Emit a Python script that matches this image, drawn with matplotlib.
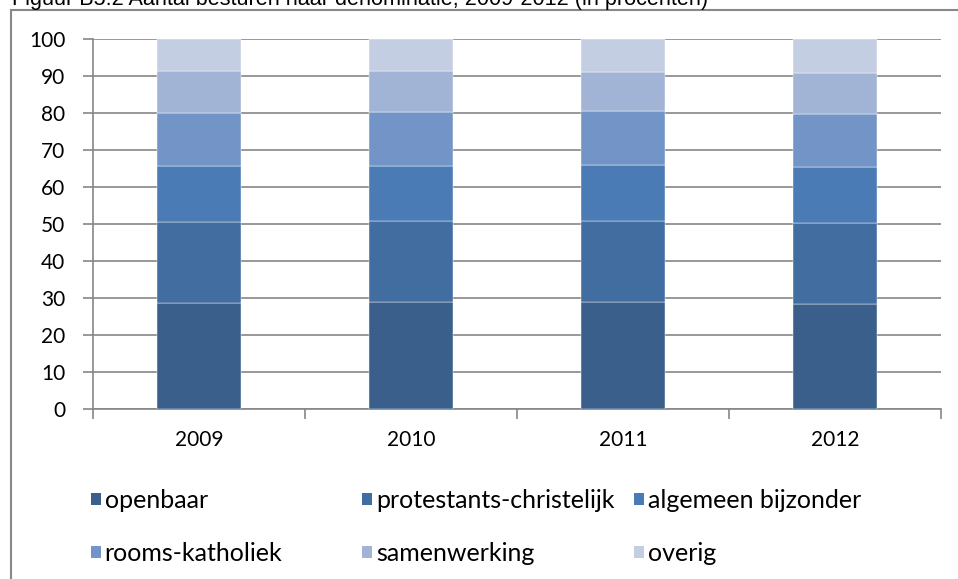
import matplotlib

matplotlib.use("Agg")
import matplotlib.pyplot as plt
from matplotlib.patches import Patch, Rectangle

# data (procenten per denominatie)
jaren = ["2009", "2010", "2011", "2012"]
openbaar = [28.7, 28.9, 28.9, 28.5]
protestants = [21.9, 21.9, 21.9, 21.9]
algemeen = [15.1, 15.0, 15.2, 15.1]
rooms = [14.4, 14.5, 14.5, 14.2]
samenwerking = [11.1, 10.9, 10.6, 11.0]
overig = [8.8, 8.8, 8.9, 9.3]

labels = ["openbaar", "protestants-christelijk", "algemeen bijzonder",
          "rooms-katholiek", "samenwerking", "overig"]
kleuren = ["#3A5F8B", "#426DA0", "#4A7BB5", "#7394C6", "#A2B4D6", "#C4CEE3"]
reeksen = [openbaar, protestants, algemeen, rooms, samenwerking, overig]

FONT = "Lato"
plt.rcParams["font.family"] = [FONT, "DejaVu Sans"]

fig = plt.figure(figsize=(9.58, 5.79), dpi=100)
ax = fig.add_axes([93 / 958, 169.7 / 579, 848 / 958, 370.4 / 579])

x = list(range(len(jaren)))
bodem = [0.0] * len(jaren)
for waarden, kleur, naam in zip(reeksen, kleuren, labels):
    ax.bar(x, waarden, width=0.4, bottom=bodem, color=kleur, label=naam,
           edgecolor="#FFFFFF", linewidth=0.3, zorder=3)
    bodem = [b + w for b, w in zip(bodem, waarden)]

ax.set_xlim(-0.5, len(jaren) - 0.5)
ax.set_ylim(0, 100)
ax.set_yticks(range(0, 101, 10))
ax.set_xticks(x)
ax.set_xticklabels(jaren)
ax.set_xticks([i - 0.5 for i in range(len(jaren) + 1)], minor=True)
ax.tick_params(axis="x", which="major", length=0, pad=15, labelsize=15)
ax.tick_params(axis="x", which="minor", length=7, width=1.2, color="#868686")
ax.tick_params(axis="y", length=7, width=1.2, color="#868686", pad=13,
               labelsize=15)

ax.yaxis.grid(True, color="#868686", linewidth=1.2, zorder=0)
ax.set_axisbelow(True)
for s in ["top", "right"]:
    ax.spines[s].set_visible(False)
for s in ["left", "bottom"]:
    ax.spines[s].set_color("#868686")
    ax.spines[s].set_linewidth(1.2)

# legenda: drie kolommen zoals in Excel
handles = [Patch(facecolor=k) for k in kleuren]
kol_x = [91 / 958, 362 / 958, 634 / 958]
for i, kx in enumerate(kol_x):
    fig.legend([handles[i], handles[i + 3]], [labels[i], labels[i + 3]],
               loc="upper left", bbox_to_anchor=(kx, 1 - 489 / 579),
               frameon=False, fontsize=18, handlelength=0.4,
               handleheight=0.4, handletextpad=0.15, labelspacing=1.2,
               borderaxespad=0, borderpad=0)

# kader rond de grafiek (loopt buiten beeld door)
fig.add_artist(Rectangle((11 / 958, -0.1), 1.2, 1 - 10 / 579 + 0.1,
                         transform=fig.transFigure, fill=False,
                         edgecolor="#888888", linewidth=1.5, clip_on=False))

fig.text(12 / 958, 1 - 5 / 579,
         "Figuur B5.2 Aantal besturen naar denominatie, 2009-2012 (in procenten)",
         fontsize=15.6, family="Liberation Sans", va="baseline", ha="left")

fig.savefig("out.png", dpi=100)
